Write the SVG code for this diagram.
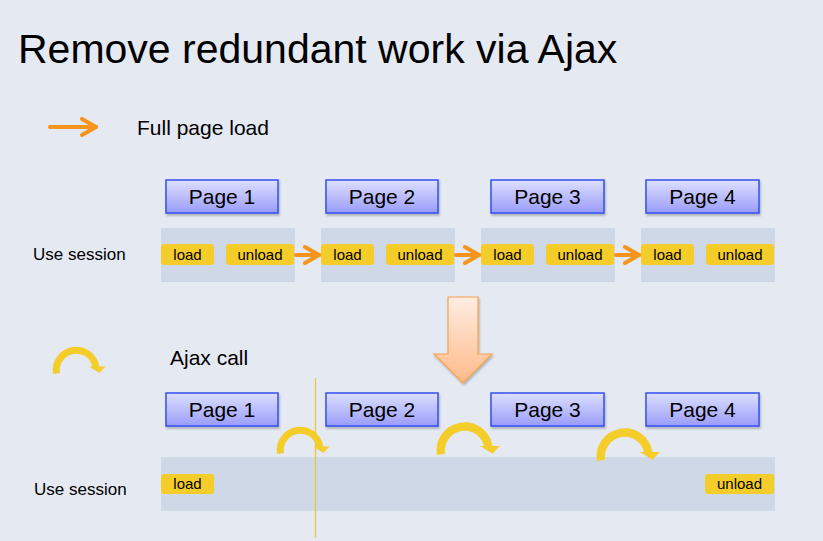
<svg xmlns="http://www.w3.org/2000/svg" width="823" height="541" viewBox="0 0 823 541">
<defs>
<linearGradient id="pg" x1="0" y1="0" x2="0" y2="1">
<stop offset="0" stop-color="#DDE0FF"/>
<stop offset="1" stop-color="#9A9CF9"/>
</linearGradient>
<linearGradient id="dg" x1="0" y1="0" x2="0" y2="1">
<stop offset="0" stop-color="#FFEDE3"/>
<stop offset="1" stop-color="#FFBA88"/>
</linearGradient>
<filter id="sh" x="-20%" y="-20%" width="140%" height="150%">
<feDropShadow dx="1" dy="2" stdDeviation="1.2" flood-color="#000" flood-opacity="0.25"/>
</filter>
<marker id="chev" markerUnits="userSpaceOnUse" viewBox="0 0 20 20" refX="17" refY="10" markerWidth="20" markerHeight="20" orient="auto">
<polyline points="3,2 17,10 3,18" fill="none" stroke="#F7941D" stroke-width="4" stroke-linecap="round" stroke-linejoin="round"/>
</marker>
<g id="curl">
<path d="M-20,2 A20,20 0 0 1 19.5,-4.5" fill="none" stroke="#F5CD2A" stroke-width="7"/>
<polygon points="12.5,-5 29,-5 23,1.5" fill="#F5CD2A"/>
</g>
</defs>
<style>
.pg{fill:url(#pg);stroke:#3350F5;stroke-width:1.5;filter:url(#sh)}
.pt{font-family:"Liberation Sans",Arial,sans-serif;font-size:21px;fill:#000;text-anchor:middle}
.band{fill:#CFD8E6}
.pill{fill:#F5CD2A}
.plt{font-family:"Liberation Sans",Arial,sans-serif;font-size:15px;fill:#000;text-anchor:middle}
.lbl{font-family:"Liberation Sans",Arial,sans-serif;font-size:17px;fill:#000}
.leg{font-family:"Liberation Sans",Arial,sans-serif;font-size:21px;fill:#000}
.con{stroke:#F7941D;stroke-width:4;fill:none;stroke-linecap:round}
</style>
<rect x="0" y="0" width="823" height="541" fill="#E4E9F2"/>
<text x="18" y="63" font-family="Liberation Sans,Arial,sans-serif" font-size="41" fill="#000">Remove redundant work via Ajax</text>

<g id="legend-full">
<line class="con" x1="50" y1="127" x2="96" y2="127" marker-end="url(#chev)"/>
<text class="leg" x="137" y="135">Full page load</text>
</g>

<g id="top-row">
<text class="lbl" x="33" y="260">Use session</text>
<g id="t-page1"><rect class="pg" x="166" y="180" width="112" height="33"/><text class="pt" x="222" y="204">Page 1</text></g>
<g id="t-page2"><rect class="pg" x="326" y="180" width="112" height="33"/><text class="pt" x="382" y="204">Page 2</text></g>
<g id="t-page3"><rect class="pg" x="491" y="180" width="113" height="33"/><text class="pt" x="547.5" y="204">Page 3</text></g>
<g id="t-page4"><rect class="pg" x="646" y="180" width="113" height="33"/><text class="pt" x="702.5" y="204">Page 4</text></g>

<g id="t-sess1"><rect class="band" x="161" y="228" width="134" height="54"/>
<rect class="pill" x="161" y="244" width="53" height="21" rx="3"/><text class="plt" x="187.5" y="260">load</text>
<rect class="pill" x="226" y="244" width="68" height="21" rx="3"/><text class="plt" x="260" y="260">unload</text></g>
<g id="t-sess2"><rect class="band" x="321" y="228" width="134" height="54"/>
<rect class="pill" x="321" y="244" width="53" height="21" rx="3"/><text class="plt" x="347.5" y="260">load</text>
<rect class="pill" x="386" y="244" width="68" height="21" rx="3"/><text class="plt" x="420" y="260">unload</text></g>
<g id="t-sess3"><rect class="band" x="481" y="228" width="134" height="54"/>
<rect class="pill" x="481" y="244" width="53" height="21" rx="3"/><text class="plt" x="507.5" y="260">load</text>
<rect class="pill" x="546" y="244" width="68" height="21" rx="3"/><text class="plt" x="580" y="260">unload</text></g>
<g id="t-sess4"><rect class="band" x="641" y="228" width="134" height="54"/>
<rect class="pill" x="641" y="244" width="53" height="21" rx="3"/><text class="plt" x="667.5" y="260">load</text>
<rect class="pill" x="706" y="244" width="68" height="21" rx="3"/><text class="plt" x="740" y="260">unload</text></g>
</g>

<g id="connectors">
<line class="con" x1="296" y1="255" x2="319" y2="255" marker-end="url(#chev)"/>
<line class="con" x1="456" y1="255" x2="479" y2="255" marker-end="url(#chev)"/>
<line class="con" x1="616" y1="255" x2="639" y2="255" marker-end="url(#chev)"/>
</g>

<g id="big-arrow">
<polygon points="448,297 478,297 478,354 492,354 463,383 434,354 448,354" fill="url(#dg)" stroke="#F7A24A" stroke-width="1.2" filter="url(#sh)"/>
</g>

<g id="legend-ajax">
<use href="#curl" transform="translate(76.5,371.5)"/>
<text class="leg" x="170" y="365">Ajax call</text>
</g>

<g id="bottom-row">
<text class="lbl" x="34" y="495">Use session</text>
<rect class="band" x="161" y="457" width="614" height="54"/>
<line x1="315.5" y1="378" x2="315.5" y2="538" stroke="#EFC437" stroke-width="1.2"/>
<g id="b-page1"><rect class="pg" x="166" y="393" width="112" height="33"/><text class="pt" x="222" y="417">Page 1</text></g>
<g id="b-page2"><rect class="pg" x="326" y="393" width="112" height="33"/><text class="pt" x="382" y="417">Page 2</text></g>
<g id="b-page3"><rect class="pg" x="491" y="393" width="113" height="33"/><text class="pt" x="547.5" y="417">Page 3</text></g>
<g id="b-page4"><rect class="pg" x="646" y="393" width="113" height="33"/><text class="pt" x="702.5" y="417">Page 4</text></g>
<rect class="pill" x="161" y="474" width="53" height="20" rx="3"/><text class="plt" x="187.5" y="489">load</text>
<rect class="pill" x="705" y="474" width="69" height="20" rx="3"/><text class="plt" x="739.5" y="489">unload</text>
<use href="#curl" transform="translate(300.5,451.5)"/>
<use href="#curl" transform="translate(465,452) scale(1.2)"/>
<use href="#curl" transform="translate(625,458) scale(1.2)"/>
</g>
</svg>
